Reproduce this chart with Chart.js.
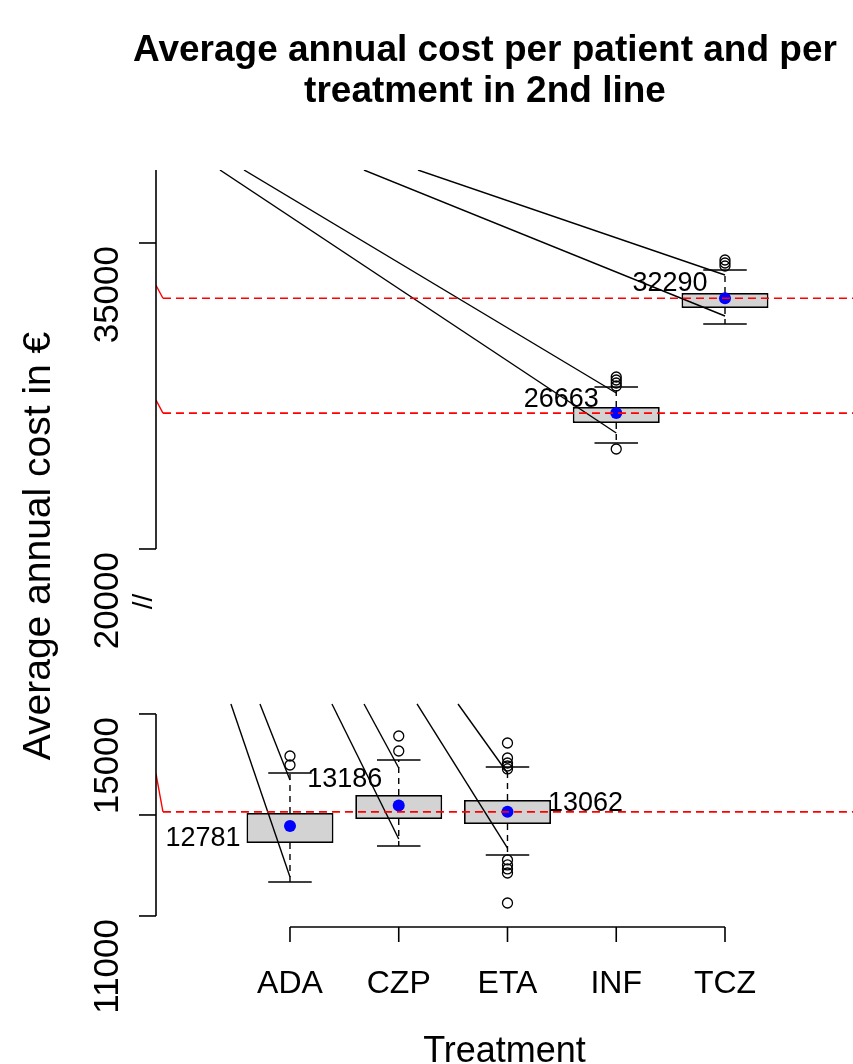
<!DOCTYPE html>
<html>
<head>
<meta charset="utf-8">
<script src="https://cdn.jsdelivr.net/npm/chart.js@4.4.1/dist/chart.umd.min.js"></script>
<style>
  html, body { margin: 0; padding: 0; background: #fff; }
  canvas { display: block; }
</style>
</head>
<body>
<canvas id="chart" width="853" height="1064"></canvas>
<script>
// --- DATA ---
const treatments = ['ADA', 'CZP', 'ETA', 'INF', 'TCZ'];
const panelOf = ['low', 'low', 'low', 'high', 'high'];
const q1 = [12445, 12921, 12822, 26176, 31814];
const q3 = [13039, 13396, 13297, 26961, 32549];
const whiskerLow = [11673, 12386, 12208, 25196, 31029];
const whiskerHigh = [13831, 14089, 13950, 27941, 33676];
const means = [12781, 13186, 13062, 26663, 32290];
const outliers = [
    [14168, 13990],
    [14564, 14267],
    [14425, 14128, 14029, 13970, 13911, 12109, 12010, 11931, 11851, 11257],
    [28431, 28284, 28137, 27990, 24902],
    [34167, 34020, 33873]
];

// dashed reference lines (value, panel) and the start of their little red slant
const refValues = [13062, 26663, 32290];
const refPanel = ['low', 'high', 'high'];
const refSlantFrom = [13814, 27300, 32927];

// stray connector lines: start x at panel top, end x, end value
const strayPanel = ['high', 'high', 'high', 'high', 'low', 'low', 'low', 'low', 'low', 'low'];
const strayStartX = [0.356, 0.577, 1.680, 2.177, 0.457, 0.724, 1.386, 1.681, 2.168, 2.545];
const strayEndX = [4, 4, 5, 5, 1, 1, 2, 2, 3, 3];
const strayEndY = [25686, 27647, 31422, 33431, 11772, 13693, 12525, 13930, 12346, 13831];
const strayTop = { high: 38578, low: 15198 };

// axis ranges of the broken y axis
const upperRange = [1421, 38578];
const lowerRange = [10762, 25771];
const upperAxisTop = 38578;
const upperTicks = [20000, 35000];
const upperTickLabels = ['20000', '35000'];
const lowerAxisTop = 15000;
const lowerTicks = [11000, 13000, 15000];
const lowerTickLabels = ['11000', '', '15000'];
const xRange = [-0.232, 6.177];

const FONT = "'Liberation Sans', Arial, Helvetica, sans-serif";
const axisFor = p => (p === 'high' ? 'yTop' : 'yBot');

// --- DATASETS ---
const datasets = [];

function seg(points, panel, color, width, dash, order) {
    datasets.push({
        type: 'line', data: points, yAxisID: axisFor(panel),
        borderColor: color, borderWidth: width, borderDash: dash || [],
        pointRadius: 0, fill: false, tension: 0, order: order
    });
}

['low', 'high'].forEach(p => {
    const boxes = [];
    treatments.forEach((t, i) => {
        if (panelOf[i] === p) boxes.push({ x: i + 1, y: [q1[i], q3[i]] });
    });
    datasets.push({
        type: 'bar', data: boxes, yAxisID: axisFor(p),
        backgroundColor: '#d3d3d3', borderColor: '#000', borderWidth: 1.8,
        borderSkipped: false, grouped: false,
        barPercentage: 0.8, categoryPercentage: 1, order: 10
    });
});

treatments.forEach((t, i) => {
    const x = i + 1, p = panelOf[i];
    seg([{ x: x, y: q3[i] }, { x: x, y: whiskerHigh[i] }], p, '#000', 1.4, [6, 5], 8);
    seg([{ x: x, y: q1[i] }, { x: x, y: whiskerLow[i] }], p, '#000', 1.4, [6, 5], 8);
    seg([{ x: x - 0.2, y: whiskerHigh[i] }, { x: x + 0.2, y: whiskerHigh[i] }], p, '#000', 1.6, [], 8);
    seg([{ x: x - 0.2, y: whiskerLow[i] }, { x: x + 0.2, y: whiskerLow[i] }], p, '#000', 1.6, [], 8);
    datasets.push({
        type: 'scatter', data: outliers[i].map(v => ({ x: x, y: v })), yAxisID: axisFor(p),
        pointRadius: 5, pointBorderWidth: 1.3, pointBorderColor: '#000',
        pointBackgroundColor: 'rgba(0,0,0,0)', showLine: false, order: 7
    });
    datasets.push({
        type: 'scatter', data: [{ x: x, y: means[i] }], yAxisID: axisFor(p),
        pointRadius: 6, pointBorderWidth: 0, pointBackgroundColor: '#0000ff',
        pointBorderColor: '#0000ff', showLine: false, order: 6
    });
});

strayStartX.forEach((sx, k) => {
    const p = strayPanel[k];
    seg([{ x: sx, y: strayTop[p] }, { x: strayEndX[k], y: strayEndY[k] }], p, '#000', 1.4, [], 4);
});

refValues.forEach((v, k) => {
    seg([{ x: -0.168, y: v }, { x: xRange[1], y: v }], refPanel[k], '#ff0000', 1.7, [8, 5], 1);
    seg([{ x: xRange[0], y: refSlantFrom[k] }, { x: -0.168, y: v }], refPanel[k], '#ff0000', 1.4, [], 1);
});

// --- DECORATION: broken axes, titles, value labels ---
function vText(ctx, str, x, y, size, align) {
    ctx.save();
    ctx.translate(x, y);
    ctx.rotate(-Math.PI / 2);
    ctx.font = size + 'px ' + FONT;
    ctx.textAlign = align;
    ctx.textBaseline = 'alphabetic';
    ctx.fillText(str, 0, 0);
    ctx.restore();
}

function hText(ctx, str, x, y, font, align) {
    ctx.font = font;
    ctx.textAlign = align;
    ctx.textBaseline = 'alphabetic';
    ctx.fillText(str, x, y);
}

function line(ctx, x1, y1, x2, y2) {
    ctx.beginPath();
    ctx.moveTo(x1, y1);
    ctx.lineTo(x2, y2);
    ctx.stroke();
}

const labelOffsets = [[-87, 10], [-54, -29], [78, -11], [-55, -16], [-55, -17]];

const decorPlugin = {
    id: 'decor',
    afterDatasetsDraw(chart) {
        const { ctx, chartArea } = chart;
        const xs = chart.scales.x, yt = chart.scales.yTop, yb = chart.scales.yBot;
        const ax = chartArea.left;
        ctx.save();
        ctx.strokeStyle = '#000';
        ctx.fillStyle = '#000';
        ctx.lineWidth = 1.6;

        // upper y axis
        line(ctx, ax, yt.getPixelForValue(upperAxisTop), ax, yt.getPixelForValue(upperTicks[0]));
        upperTicks.forEach((v, k) => {
            const py = yt.getPixelForValue(v);
            line(ctx, ax - 17, py, ax, py);
            vText(ctx, upperTickLabels[k], ax - 38, py + 3, 35, 'right');
        });
        // lower y axis
        line(ctx, ax, yb.getPixelForValue(lowerAxisTop), ax, yb.getPixelForValue(lowerTicks[0]));
        lowerTicks.forEach((v, k) => {
            const py = yb.getPixelForValue(v);
            line(ctx, ax - 17, py, ax, py);
            if (lowerTickLabels[k]) vText(ctx, lowerTickLabels[k], ax - 38, py + 3, 35, 'right');
        });
        // break mark
        vText(ctx, '//', ax - 4, (yt.getPixelForValue(upperTicks[0]) + yb.getPixelForValue(lowerAxisTop)) / 2 - 30, 28, 'center');

        // x axis
        const by = chartArea.bottom - 1;
        line(ctx, xs.getPixelForValue(1), by, xs.getPixelForValue(treatments.length), by);
        treatments.forEach((t, i) => {
            const px = xs.getPixelForValue(i + 1);
            line(ctx, px, by, px, by + 15);
            hText(ctx, t, px, by + 66, '32px ' + FONT, 'center');
        });

        // axis titles
        hText(ctx, 'Treatment', (chartArea.left + chartArea.right) / 2, 1062, '36px ' + FONT, 'center');
        vText(ctx, 'Average annual cost in €', 50, (chartArea.top + chartArea.bottom) / 2 - 3, 39, 'center');

        // value labels next to the means
        means.forEach((m, i) => {
            const sc = panelOf[i] === 'high' ? yt : yb;
            const px = xs.getPixelForValue(i + 1) + labelOffsets[i][0];
            const py = sc.getPixelForValue(m) + labelOffsets[i][1] + 10;
            hText(ctx, String(m), px, py, '27px ' + FONT, 'center');
        });

        // main title
        hText(ctx, 'Average annual cost per patient and per', 485, 61, 'bold 37px ' + FONT, 'center');
        hText(ctx, 'treatment in 2nd line', 485, 102, 'bold 37px ' + FONT, 'center');
        ctx.restore();
    }
};

// --- CHART ---
new Chart(document.getElementById('chart'), {
    type: 'bar',
    data: { datasets: datasets },
    options: {
        responsive: false,
        animation: false,
        events: [],
        layout: { autoPadding: false, padding: { left: 156, right: 0, top: 170, bottom: 136 } },
        plugins: { legend: { display: false }, tooltip: { enabled: false } },
        scales: {
            x: { type: 'linear', offset: false, min: xRange[0], max: xRange[1], display: false },
            yTop: { type: 'linear', position: 'left', min: upperRange[0], max: upperRange[1], display: false },
            yBot: { type: 'linear', position: 'left', min: lowerRange[0], max: lowerRange[1], display: false }
        }
    },
    plugins: [decorPlugin]
});
</script>
</body>
</html>
